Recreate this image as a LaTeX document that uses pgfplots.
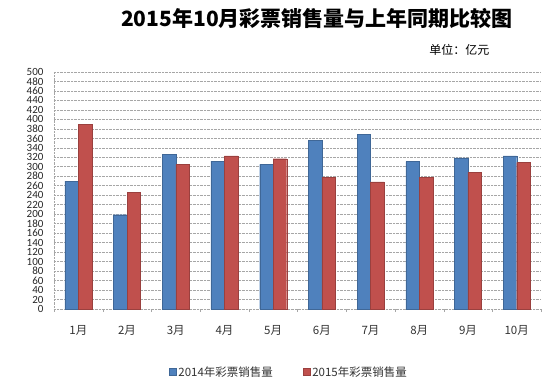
\documentclass[border=0pt]{standalone}
\usepackage{fontspec}
\setmainfont{Carlito}
\newfontfamily\cjk{Noto Sans CJK SC}
\usepackage{pgfplots}
\pgfplotsset{compat=1.18}
\definecolor{sblue}{HTML}{4F81BD}
\definecolor{sred}{HTML}{C0504D}
\definecolor{gridc}{HTML}{A6A6A6}
\begin{document}
\begin{tikzpicture}
\path[use as bounding box] (-54pt,-79pt) rectangle (495pt,309pt);
\begin{axis}[
  at={(0pt,0pt)}, anchor=south west,
  scale only axis, width=487pt, height=237pt,
  ybar=0pt, bar width=13.5pt,
  xmin=-0.5, xmax=9.5, ymin=0, ymax=500,
  xtick={0,...,9},
  xticklabels={1月,2月,3月,4月,5月,6月,7月,8月,9月,10月},
  minor xtick={-0.5,0.5,...,9.5},
  ytick={0,20,...,500},
  axis x line*=bottom, axis y line*=left,
  axis line style={gridc, densely dotted, -},
  ymajorgrids, major grid style={gridc, densely dotted, line width=0.6pt},
  major tick length=0pt, minor tick length=3pt,
  minor tick style={gridc},
  tick align=outside,
  xticklabel style={font=\cjk\fontsize{11.5}{12}\selectfont, yshift=-13pt, text=black!80},
  yticklabel style={font=\fontsize{11}{11}\selectfont, xshift=-7pt, text=black!85},
  /pgf/number format/assume math mode=true,
  legend style={at={(0.4825,-0.266)}, anchor=center, draw=none, legend columns=2,
    font=\cjk\fontsize{11.5}{12}\selectfont, text=black!80,
    /tikz/every even column/.append style={column sep=28pt}},
  legend image code/.code={\fill[#1] (0pt,-3.2pt) rectangle (7pt,3.8pt);},
]
\addplot[fill=sblue, draw=sblue!80!black, line width=0.3pt] coordinates {
(0,270) (1,199) (2,326) (3,312) (4,305) (5,356) (6,368) (7,311) (8,319) (9,323)};
\addplot[fill=sred, draw=sred!80!black, line width=0.3pt] coordinates {
(0,390) (1,246) (2,305) (3,323) (4,317) (5,278) (6,268) (7,278) (8,288) (9,309)};
\legend{2014年彩票销售量, 2015年彩票销售量}
\end{axis}
\node[font=\cjk\bfseries\fontsize{21}{24}\selectfont] at (263pt,291pt) {2015年10月彩票销售量与上年同期比较图};
\node[font=\cjk\fontsize{12}{14}\selectfont, anchor=east] at (439pt,259pt) {单位：亿元};
\end{tikzpicture}
\end{document}
